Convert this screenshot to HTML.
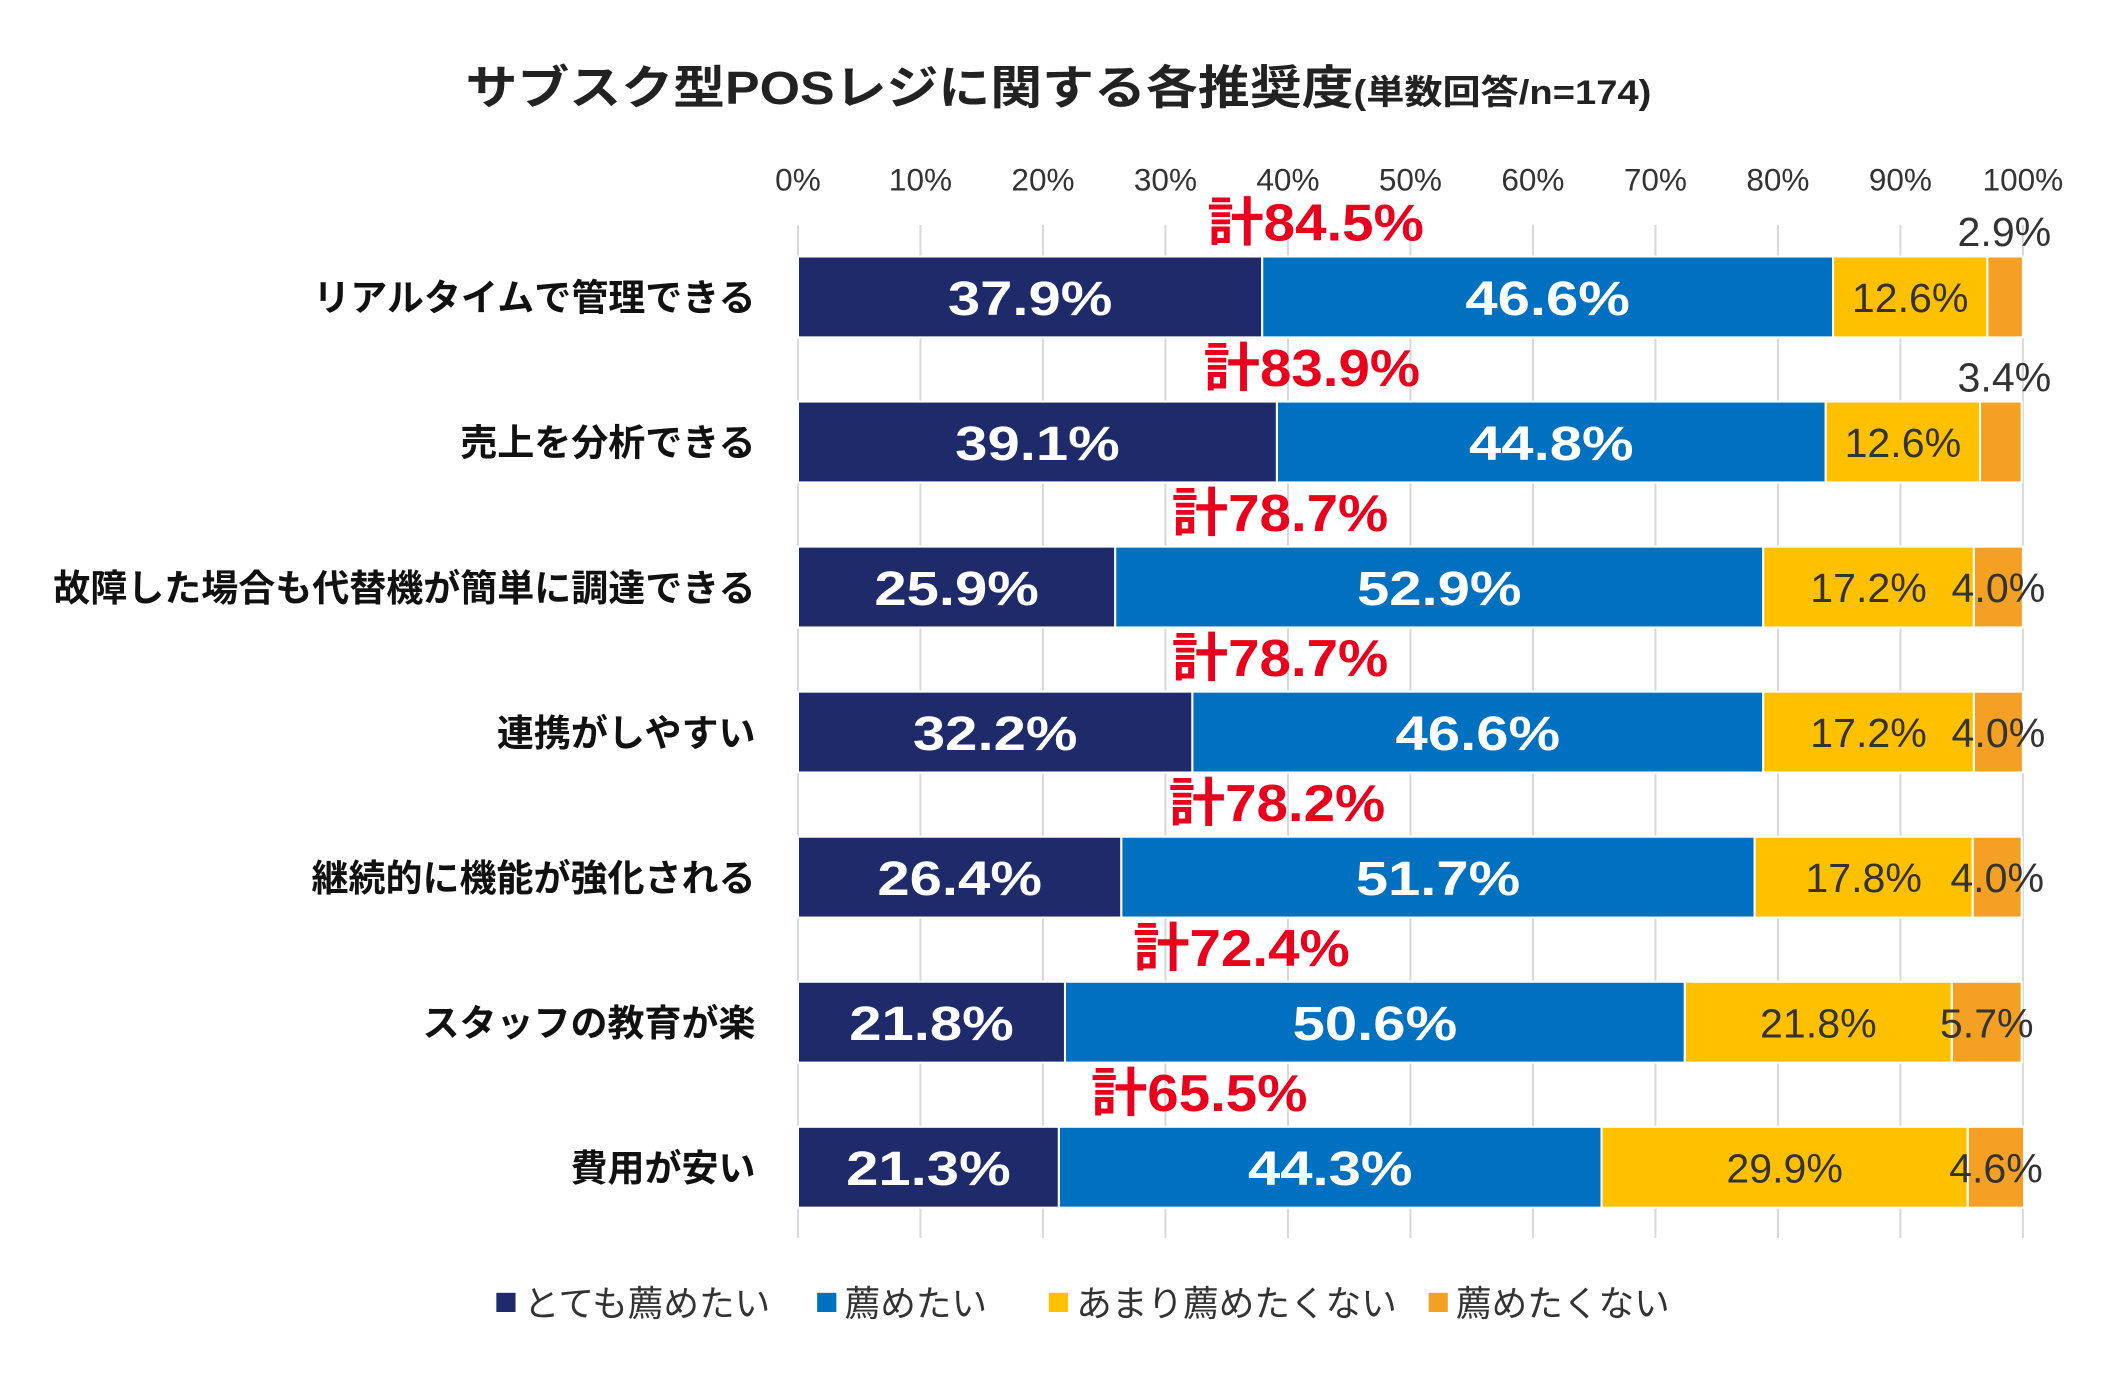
<!DOCTYPE html>
<html><head><meta charset="utf-8"><style>
html,body{margin:0;padding:0;background:#fff;}
svg{display:block;}
text{font-family:"Liberation Sans","Noto Sans CJK JP",sans-serif;}
</style></head><body>
<svg id="chart" width="2121" height="1397" viewBox="0 0 1547 1019" xmlns="http://www.w3.org/2000/svg">
<text x="772" y="76" text-anchor="middle" font-size="34" font-weight="bold" fill="#222" textLength="865" lengthAdjust="spacingAndGlyphs">サブスク型POSレジに関する各推奨度<tspan font-size="25">(単数回答/n=174)</tspan></text>
<g id="grid"></g>
<g id="ticks"></g>
<g id="bars"></g>
<g id="cats"></g>
<g id="legend"></g>
</svg>
<script>
const categories = ["リアルタイムで管理できる","売上を分析できる","故障した場合も代替機が簡単に調達できる","連携がしやすい","継続的に機能が強化される","スタッフの教育が楽","費用が安い"];
const veryRecommend = [37.9,39.1,25.9,32.2,26.4,21.8,21.3];
const recommend = [46.6,44.8,52.9,46.6,51.7,50.6,44.3];
const notMuch = [12.6,12.6,17.2,17.2,17.8,21.8,29.9];
const notRecommend = [2.9,3.4,4.0,4.0,4.0,5.7,4.6];
const totals = [84.5,83.9,78.7,78.7,78.2,72.4,65.5];
const tickValues = [0,10,20,30,40,50,60,70,80,90,100];
const seriesNames = ["とても薦めたい","薦めたい","あまり薦めたくない","薦めたくない"];
const colors = ["#1f2a6b","#0070c0","#ffc000","#f4a025"];
const NS="http://www.w3.org/2000/svg";
const X0=582, X1=1475.5, Y0=216.6, STEP=105.8, BH=59;
const xs=v=>X0+(X1-X0)*v/100;
const ys=i=>Y0+STEP*i;
function mk(tag,attrs,parent,txt){const e=document.createElementNS(NS,tag);for(const k in attrs)e.setAttribute(k,attrs[k]);if(txt!==undefined)e.textContent=txt;parent.appendChild(e);return e;}
const grid=document.getElementById('grid'),ticks=document.getElementById('ticks'),bars=document.getElementById('bars'),cats=document.getElementById('cats'),legend=document.getElementById('legend');
tickValues.forEach(t=>{
  const l=mk('line',{x1:xs(t),x2:xs(t),y1:164,y2:903,stroke:'#d9d9d9','stroke-width':1.5},grid);
  
  
  const tx=mk('text',{x:xs(t),y:139,'text-anchor':'middle','font-size':23,fill:'#333'},ticks,t+'%');
  
  
});
const series=[veryRecommend,recommend,notMuch,notRecommend];
categories.forEach((c,i)=>{
  const cy=ys(i);
  const ct=mk('text',{x:551,y:cy+10,'text-anchor':'end','font-size':27,'font-weight':'bold',fill:'#111'},cats,c);
  
  
  let acc=0;
  series.forEach((s,k)=>{
    const v=s[i];
    const r=mk('rect',{x:xs(acc),y:cy-BH/2,width:xs(acc+v)-xs(acc),height:BH,fill:colors[k],stroke:'#fff','stroke-width':1.5},bars);
    
    
    const mid=(xs(acc)+xs(acc+v))/2;
    let t;
    if(k<2){t=mk('text',{x:mid,y:cy+13,'text-anchor':'middle','font-size':35,'font-weight':'bold',fill:'#fff',textLength:120,lengthAdjust:'spacingAndGlyphs'},bars,v.toFixed(1)+'%');}
    else if(k==2){t=mk('text',{x:mid,y:cy+11,'text-anchor':'middle','font-size':30,fill:'#333'},bars,v.toFixed(1)+'%');}
    else if(v<3.5){t=mk('text',{x:1462,y:cy-37,'text-anchor':'middle','font-size':30,fill:'#333'},bars,v.toFixed(1)+'%');}
    else {t=mk('text',{x:mid,y:cy+11,'text-anchor':'middle','font-size':30,fill:'#333'},bars,v.toFixed(1)+'%');}
    
    
    acc+=v;
  });
  const tt=mk('text',{x:xs(totals[i]/2),y:cy-41,'text-anchor':'middle','font-size':38,'font-weight':'bold',fill:'#e8001c',textLength:158,lengthAdjust:'spacingAndGlyphs'},bars,'計'+totals[i].toFixed(1)+'%');
  
  
});
const lx=[362,596,765,1042];
seriesNames.forEach((n,k)=>{
  const g=mk('g',{},legend);
  
  
  mk('rect',{x:lx[k],y:943,width:14,height:14,fill:colors[k]},g);
  mk('text',{x:lx[k]+20,y:960,'font-size':26,fill:'#333'},g,n);
});
</script>
</body></html>
